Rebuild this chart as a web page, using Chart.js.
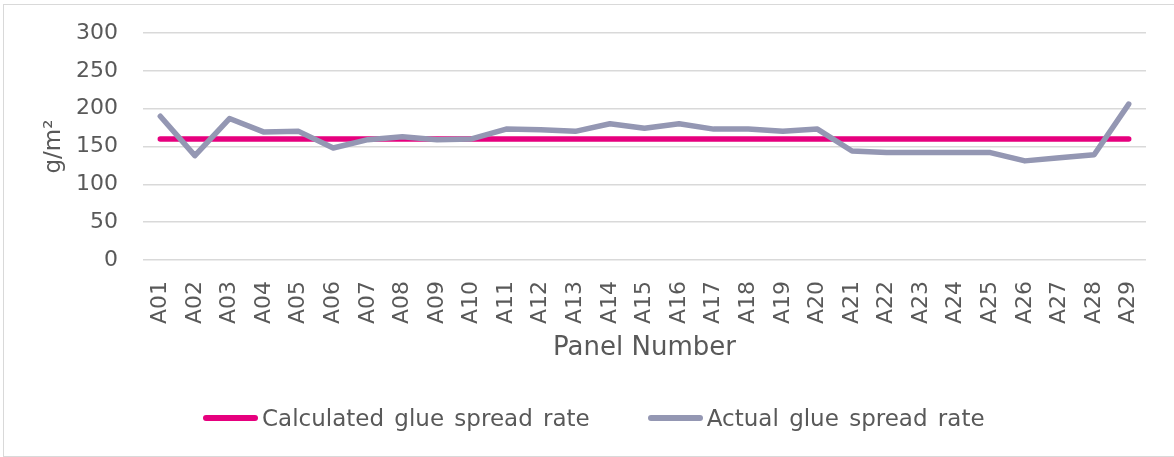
<!DOCTYPE html>
<html>
<head>
<meta charset="utf-8">
<script src="https://cdn.jsdelivr.net/npm/chart.js@4/dist/chart.umd.min.js"></script>
<style>
  html, body { margin: 0; padding: 0; background: #fff; }
  body { width: 1174px; height: 457px; position: relative; overflow: hidden; font-family: "DejaVu Sans", Verdana, sans-serif; }
  #wrap { position: absolute; left: 0; top: 0; width: 1174px; height: 457px; }
  #frame { position: absolute; left: 3px; top: 4px; width: 1180px; height: 451px; border: 1px solid #d9d9d9; pointer-events: none; }
  #legend { position: absolute; left: 203px; top: 405px; display: flex; gap: 58px; align-items: center; }
  .item { display: flex; align-items: center; gap: 4px; font-size: 23px; word-spacing: 3px; color: #595959; white-space: nowrap; }
  .swatch { display: inline-block; width: 55px; height: 5.5px; border-radius: 3px; }
</style>
</head>
<body>
<div id="frame"></div>
<div id="wrap"><canvas id="chart" width="1174" height="457"></canvas></div>
<div id="legend"></div>
<script>
const panels = ["A01", "A02", "A03", "A04", "A05", "A06", "A07", "A08", "A09", "A10",
  "A11", "A12", "A13", "A14", "A15", "A16", "A17", "A18", "A19", "A20",
  "A21", "A22", "A23", "A24", "A25", "A26", "A27", "A28", "A29"];
const calculated = panels.map(() => 160);
const actual = [190, 138, 187, 169, 170, 148, 159, 163, 159, 160,
  173, 172, 170, 180, 174, 180, 173, 173, 170, 173,
  144, 142, 142, 142, 142, 131, 135, 139, 206];

const PINK = "#e6007e";
const GREY = "#9497b3";
const TEXT = "#595959";

const chart = new Chart(document.getElementById("chart"), {
  type: "line",
  data: {
    labels: panels,
    datasets: [
      {
        label: "Calculated glue spread rate",
        data: calculated,
        borderColor: PINK,
        backgroundColor: PINK,
        borderWidth: 5.5,
        borderCapStyle: "round",
        borderJoinStyle: "round",
        pointRadius: 0,
        order: 2,
      },
      {
        label: "Actual glue spread rate",
        data: actual,
        borderColor: GREY,
        backgroundColor: GREY,
        borderWidth: 5.5,
        borderCapStyle: "round",
        borderJoinStyle: "round",
        pointRadius: 0,
        order: 1,
      },
    ],
  },
  options: {
    responsive: false,
    animation: false,
    layout: { padding: { left: 30, top: 33, right: 28, bottom: 83 } },
    plugins: { legend: { display: false }, tooltip: { enabled: false } },
    elements: { line: { tension: 0 } },
    scales: {
      x: {
        offset: true,
        grid: { display: false, offset: true },
        border: { display: false },
        ticks: {
          color: TEXT,
          font: { family: "DejaVu Sans", size: 22 },
          minRotation: 90,
          maxRotation: 90,
          padding: 13,
          autoSkip: false,
        },
        title: {
          display: true,
          text: "Panel Number",
          color: TEXT,
          font: { family: "DejaVu Sans", size: 26 },
          padding: { top: 4, bottom: 10 },
        },
        afterFit(scale) { scale.height = 114; },
      },
      y: {
        min: 0,
        max: 300,
        border: { display: false },
        // invisible ticks make the gap, so the label padding stays small
        grid: { color: "#d9d9d9", lineWidth: 1.5, drawTicks: true, tickLength: 22, tickColor: "rgba(0,0,0,0)" },
        ticks: {
          stepSize: 50,
          color: TEXT,
          font: { family: "DejaVu Sans", size: 22 },
          padding: 3,
        },
        title: {
          display: true,
          text: "g/m²",
          color: TEXT,
          font: { family: "DejaVu Sans", size: 23 },
          padding: { top: 10, bottom: 4 },
        },
        afterFit(scale) { scale.width = 113; },
      },
    },
  },
});

// legend in page order, built from the chart's datasets
const legend = document.getElementById("legend");
chart.data.datasets.forEach((ds) => {
  const item = document.createElement("div");
  item.className = "item";
  const swatch = document.createElement("span");
  swatch.className = "swatch";
  swatch.style.background = ds.borderColor;
  item.appendChild(swatch);
  item.appendChild(document.createTextNode(ds.label));
  legend.appendChild(item);
});
</script>
</body>
</html>
